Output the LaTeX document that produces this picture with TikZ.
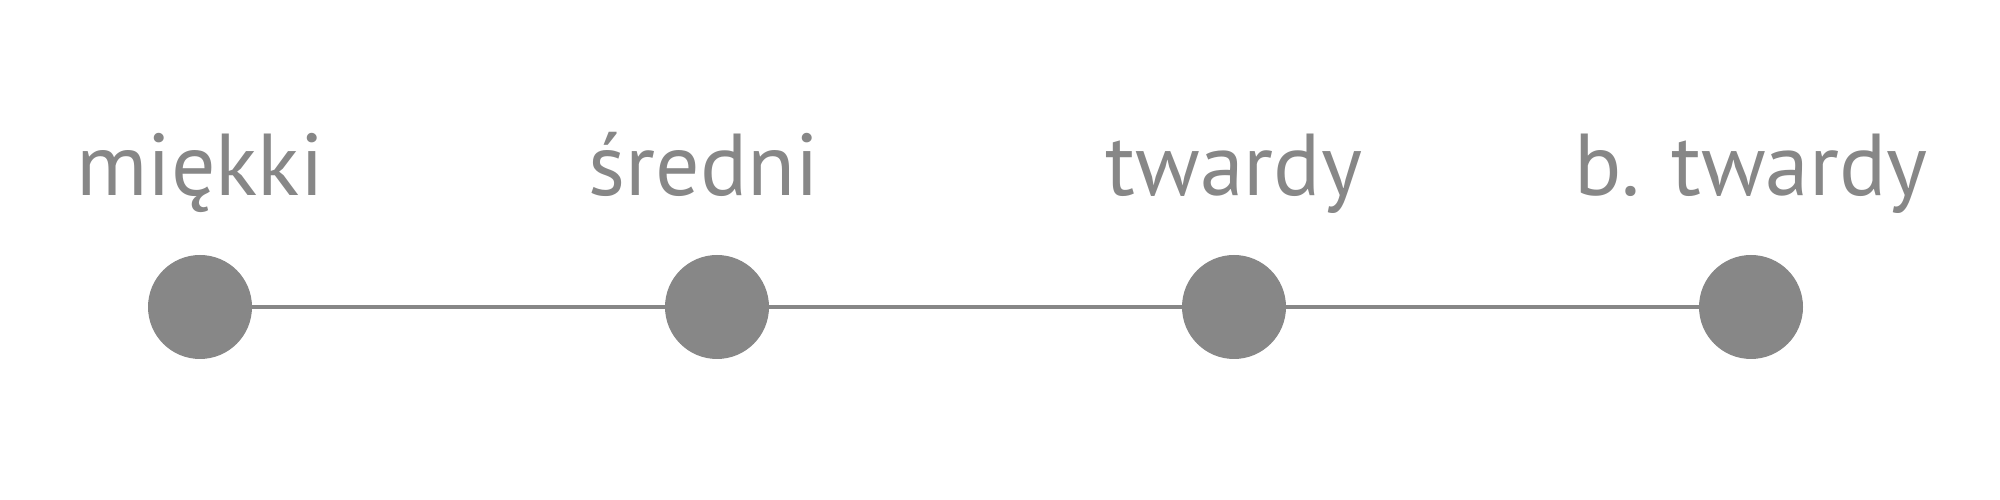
\documentclass[tikz,border=0pt]{standalone}
\usepackage{fontspec}
\setmainfont{PT Sans}
\usetikzlibrary{positioning}
\definecolor{scalegray}{RGB}{135,135,135}

\begin{document}
\begin{tikzpicture}
        \tikzset{dot/.style={circle, fill=scalegray, minimum size=1.04cm, inner sep=0pt, outer sep=0pt},
        lbl/.style={text=scalegray, font=\fontsize{25}{30}\selectfont, inner sep=0pt, anchor=base},
        link/.style={draw=scalegray, line width=1.4pt}
        }
        \useasboundingbox (0,0) rectangle (20,5);
        \node [dot] (soft) at (2.00,1.93) {};
        \node [dot, right =4.13cm of soft] (medium) {};
        \node [dot, right =4.13cm of medium] (hard) {};
        \node [dot, right =4.13cm of hard] (vhard) {};

%% labels
        \node [lbl] (lsoft) at ([yshift=1.11cm]soft) {miękki};
        \node [lbl] (lmedium) at ([xshift=-0.13cm,yshift=1.11cm]medium) {średni};
        \node [lbl] (lhard) at ([yshift=1.11cm]hard) {twardy};
        \node [lbl] (lvhard) at ([yshift=1.11cm]vhard) {b. twardy};

%% paths
        \path[link] (soft) edge (medium)
                    (medium) edge (hard)
                    (hard) edge (vhard);
    \end{tikzpicture}
\end{document}
